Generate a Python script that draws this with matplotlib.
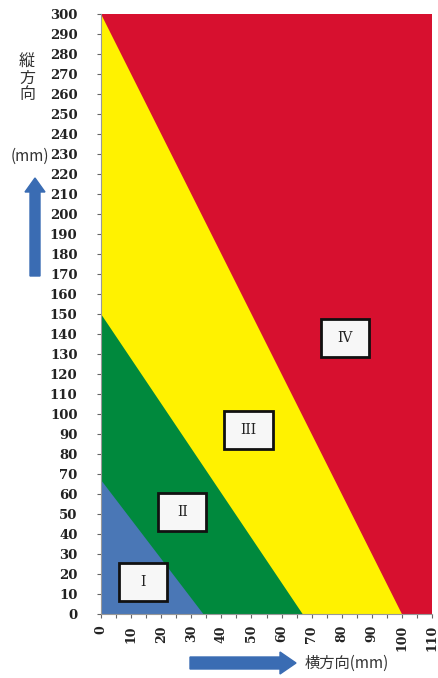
import matplotlib
matplotlib.use("Agg")
import matplotlib.pyplot as plt
from matplotlib.patches import Rectangle, FancyArrow
from matplotlib.transforms import IdentityTransform

# ---- data ----
zone_labels = ["I", "II", "III", "IV"]
zone_colors = ["#4A77B6", "#00893D", "#FFF200", "#D7102F"]
y_intercepts = [67, 150, 300]     # boundary lines: top (x=0) values
x_intercepts = [34, 67, 100]      # boundary lines: bottom (y=0) values
label_x = [14, 27, 49, 81]
label_y = [16, 51, 92, 138]
x_ticks = list(range(0, 111, 10))
y_ticks = list(range(0, 301, 10))

W, H = 438, 678
fig = plt.figure(figsize=(W / 100, H / 100), dpi=100)
ax = fig.add_axes([101 / W, 1 - 614 / H, 331 / W, 600 / H])
ax.set_xlim(0, 110)
ax.set_ylim(0, 300)

# background (zone IV)
ax.fill([0, 110, 110, 0], [0, 0, 300, 300], color=zone_colors[3], lw=0)
# zones III, II, I drawn from outermost inward
for i in [2, 1, 0]:
    ax.fill([0, x_intercepts[i], 0], [0, 0, y_intercepts[i]],
            color=zone_colors[i], lw=0)

# label boxes
bw, bh = 16, 19
for lab, cx, cy in zip(zone_labels, label_x, label_y):
    ax.add_patch(Rectangle((cx - bw / 2, cy - bh / 2), bw, bh,
                           facecolor="#F7F7F7", edgecolor="#111111", lw=2, zorder=5))
    ax.text(cx, cy, lab, ha="center", va="center", fontsize=10,
            family="DejaVu Serif", zorder=6, color="#222222")

# axes styling
for s in ["top", "right"]:
    ax.spines[s].set_visible(False)
for s in ["left", "bottom"]:
    ax.spines[s].set_color("#999999")
    ax.spines[s].set_linewidth(0.8)
ax.set_xticks(x_ticks)
ax.set_yticks(y_ticks)
ax.set_xticks(range(5, 111, 10), minor=True)
ax.tick_params(axis="both", which="both", length=3, color="#666666", width=0.8)
ax.tick_params(axis="y", pad=14)
ax.tick_params(axis="x", pad=5)
ax.set_xticklabels([str(v) for v in x_ticks], rotation=90,
                   fontsize=9, family="DejaVu Serif", fontweight="bold", color="#222222")
ax.set_yticklabels([str(v) for v in y_ticks],
                   fontsize=9.5, family="DejaVu Serif", fontweight="bold", color="#222222")

# side annotations
jp = ["Noto Sans CJK JP", "DejaVu Sans"]
fig.text(27 / W, 1 - 78 / H, "縦\n方\n向", ha="center", va="center",
         fontsize=11.5, family=jp, color="#333333", linespacing=0.95)
fig.text(30 / W, 1 - 156 / H, "(mm)", ha="center", va="center",
         fontsize=11, family=jp, color="#333333")
fig.text(305 / W, 1 - 663 / H, "横方向(mm)", ha="left", va="center",
         fontsize=11, family=jp, color="#333333")

arrow_color = "#3A6CB3"
# up arrow (pixel coords from bottom)
fig.add_artist(FancyArrow(35, H - 276, 0, 98, width=10, head_width=20,
                          head_length=14, length_includes_head=True,
                          color=arrow_color, transform=IdentityTransform()))
# right arrow
fig.add_artist(FancyArrow(190, H - 663, 106, 0, width=12, head_width=22,
                          head_length=16, length_includes_head=True,
                          color=arrow_color, transform=IdentityTransform()))

fig.savefig("out.png", dpi=100)
